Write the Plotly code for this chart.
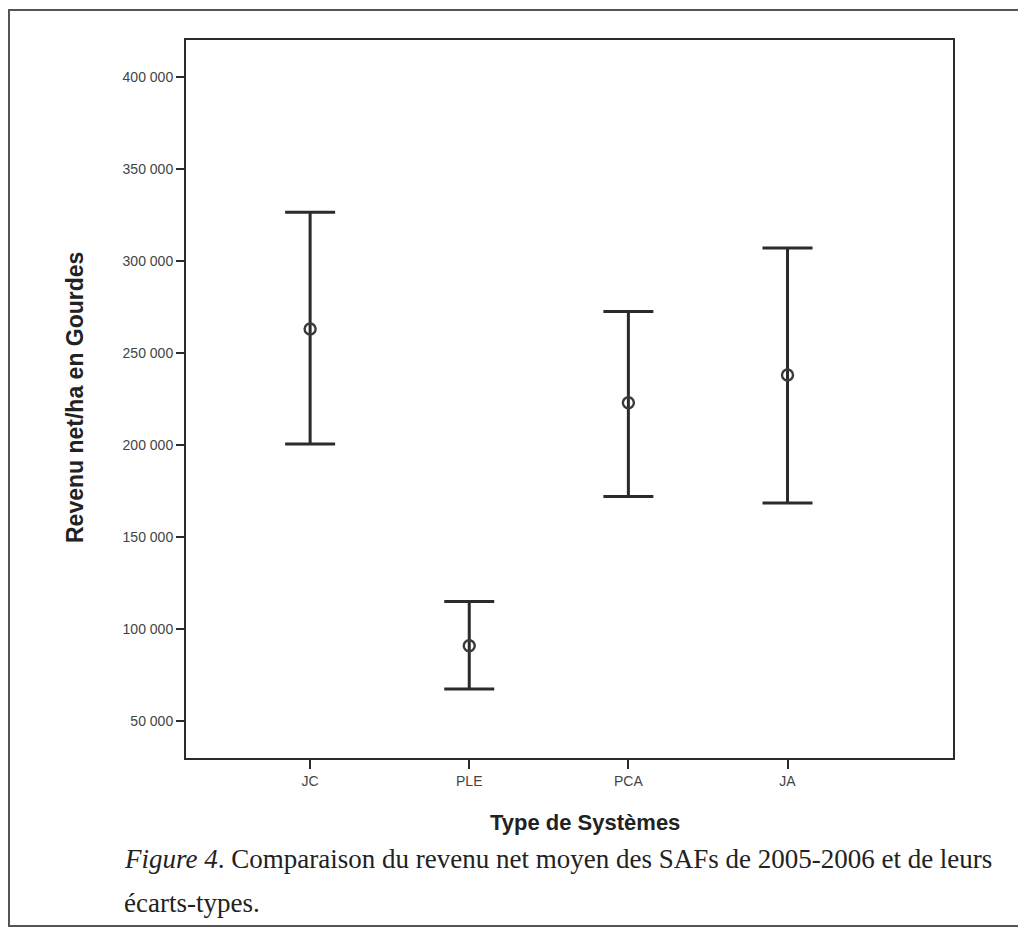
import plotly.graph_objects as go

# ---- data ----
categories = ["JC", "PLE", "PCA", "JA"]
means = [263000, 91000, 223000, 238000]
upper = [326500, 115000, 272500, 307000]
lower = [200500, 67500, 172000, 168500]
y_tickvals = [50000, 100000, 150000, 200000, 250000, 300000, 350000, 400000]
y_ticktext = ["50 000", "100 000", "150 000", "200 000", "250 000", "300 000", "350 000", "400 000"]

OFF = 8  # page body margin
W, H = 1026 - OFF, 931 - OFF
L, R, T, B = 186 - OFF, 953 - OFF, 40 - OFF, 758 - OFF  # plot area in pixels

def px(x):
    return (x - OFF - L) / (R - L)

def py(y):
    return (B - (y - OFF)) / (B - T)

err_plus = [u - m for u, m in zip(upper, means)]
err_minus = [m - l for m, l in zip(means, lower)]

fig = go.Figure()
fig.add_trace(go.Scatter(
    x=categories, y=means, mode="markers",
    marker=dict(symbol="circle-open", size=11, color="#3a3a3a", line=dict(width=2.4, color="#3a3a3a")),
    error_y=dict(type="data", symmetric=False, array=err_plus, arrayminus=err_minus,
                 color="#2b2b2b", thickness=3, width=25),
    showlegend=False,
))

fig.update_layout(
    width=W, height=H, autosize=False,
    margin=dict(l=L, r=W - R, t=T, b=H - B),
    paper_bgcolor="white", plot_bgcolor="white",
    font=dict(family="Liberation Sans, Arial, sans-serif", color="#333"),
    xaxis=dict(
        type="category", range=[-0.78, 4.04],
        showline=True, linecolor="#2b2b2b", linewidth=2, mirror=True,
        ticks="outside", ticklen=9, tickwidth=2, tickcolor="#2b2b2b",
        tickfont=dict(size=14, color="#444"), showgrid=False, zeroline=False,
    ),
    yaxis=dict(
        range=[30000, 420000],
        tickvals=y_tickvals, ticktext=y_ticktext,
        showline=True, linecolor="#2b2b2b", linewidth=2, mirror=True,
        ticks="outside", ticklen=8, tickwidth=2, tickcolor="#2b2b2b",
        tickfont=dict(size=14, color="#444"), showgrid=False, zeroline=False,
    ),
)

# outer frame of the scanned figure
fig.add_shape(type="rect", xref="paper", yref="paper",
              x0=px(9), x1=px(1060), y0=py(926), y1=py(10),
              line=dict(color="#555", width=2), layer="below")

# axis titles
fig.add_annotation(xref="paper", yref="paper", x=px(585), y=py(822), xanchor="center", yanchor="middle",
                   showarrow=False, text="<b>Type de Systèmes</b>",
                   font=dict(family="Liberation Sans, Arial, sans-serif", size=22, color="#222"))
fig.add_annotation(xref="paper", yref="paper", x=px(75), y=py(398), xanchor="center", yanchor="middle",
                   showarrow=False, textangle=-90, text="<b>Revenu net/ha en Gourdes</b>",
                   font=dict(family="Liberation Sans, Arial, sans-serif", size=23, color="#222"))

# caption
fig.add_annotation(xref="paper", yref="paper", x=px(122), y=py(859), xanchor="left", yanchor="middle",
                   showarrow=False,
                   text="<i>Figure 4</i>. Comparaison du revenu net moyen des SAFs de 2005-2006 et de leurs",
                   font=dict(family="Liberation Serif, Times New Roman, serif", size=27, color="#222"))
fig.add_annotation(xref="paper", yref="paper", x=px(122), y=py(903), xanchor="left", yanchor="middle",
                   showarrow=False, text="écarts-types.",
                   font=dict(family="Liberation Serif, Times New Roman, serif", size=27, color="#222"))

fig.write_html("out.html")
